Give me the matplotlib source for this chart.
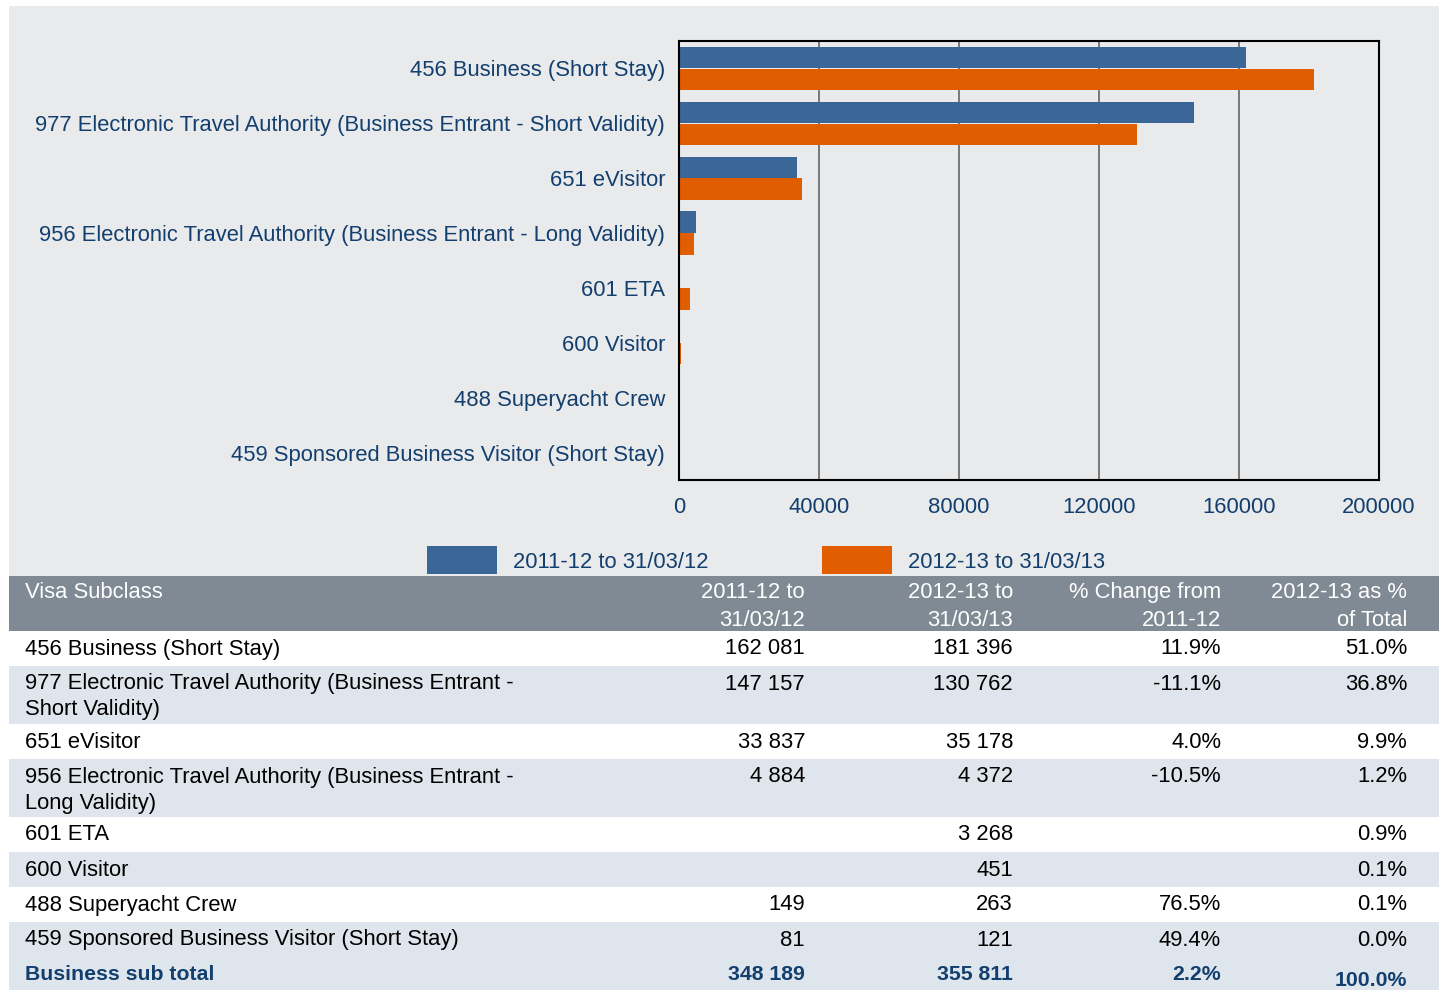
import numpy as np
import matplotlib
matplotlib.use("Agg")
import matplotlib.pyplot as plt
from matplotlib.patches import Rectangle

plt.rcParams['font.family'] = ['Liberation Sans', 'DejaVu Sans']

# data
categories = ["456 Business (Short Stay)",
              "977 Electronic Travel Authority (Business Entrant - Short Validity)",
              "651 eVisitor",
              "956 Electronic Travel Authority (Business Entrant - Long Validity)",
              "601 ETA",
              "600 Visitor",
              "488 Superyacht Crew",
              "459 Sponsored Business Visitor (Short Stay)"]
table_names = ["456 Business (Short Stay)",
               "977 Electronic Travel Authority (Business Entrant -\nShort Validity)",
               "651 eVisitor",
               "956 Electronic Travel Authority (Business Entrant -\nLong Validity)",
               "601 ETA",
               "600 Visitor",
               "488 Superyacht Crew",
               "459 Sponsored Business Visitor (Short Stay)"]
series_names = ["2011-12 to 31/03/12", "2012-13 to 31/03/13"]
v2011 = [162081, 147157, 33837, 4884, None, None, 149, 81]
v2013 = [181396, 130762, 35178, 4372, 3268, 451, 263, 121]
pct_change = [11.9, -11.1, 4.0, -10.5, None, None, 76.5, 49.4]
pct_total = [51.0, 36.8, 9.9, 1.2, 0.9, 0.1, 0.1, 0.0]
subtotal = ["Business sub total", 348189, 355811, 2.2, 100.0]
headers = ["Visa Subclass", "2011-12 to\n31/03/12", "2012-13 to\n31/03/13",
           "% Change from\n2011-12", "2012-13 as %\nof Total"]
xticks = [0, 40000, 80000, 120000, 160000, 200000]

BG = "#e9eaec"
HEAD = "#808a94"
ROWALT = "#dfe5ec"
DARK = "#123f6e"
BLUE = "#3b6698"
ORANGE = "#e05e00"
FS = 15.8

W, H = 1447, 990
fig = plt.figure(figsize=(W / 100, H / 100), dpi=100, facecolor="white")

# overlay in pixel coords for panel, legend and table
bg = fig.add_axes([0, 0, 1, 1], zorder=0)
bg.set_xlim(0, W)
bg.set_ylim(H, 0)
bg.axis("off")
bg.add_patch(Rectangle((9, 6), 1430, 570, color=BG, lw=0))

# chart
ax = fig.add_axes([679 / W, 1 - 480 / H, 700 / W, 439 / H], zorder=1)
ax.set_facecolor(BG)
y = np.arange(len(categories))
b1 = np.array([np.nan if v is None else v for v in v2011], dtype=float)
b2 = np.array(v2013, dtype=float)
ax.barh(y - 0.2, b1, height=0.39, color=BLUE)
ax.barh(y + 0.2, b2, height=0.39, color=ORANGE)
ax.set_xlim(0, 200000)
ax.set_ylim(len(categories) - 0.5, -0.5)
ax.set_xticks(xticks)
ax.set_xticklabels([str(t) for t in xticks])
ax.set_yticks(y)
ax.set_yticklabels(categories)
ax.tick_params(axis="both", length=0, labelsize=FS, labelcolor=DARK)
ax.tick_params(axis="x", pad=12)
ax.tick_params(axis="y", pad=10)
ax.xaxis.grid(True, color="#707070", lw=1.3)
ax.set_axisbelow(True)
for s in ax.spines.values():
    s.set_color("black")
    s.set_linewidth(1.5)

# legend
for i, (name, col) in enumerate(zip(series_names, [BLUE, ORANGE])):
    x0 = 427 + i * 395
    bg.add_patch(Rectangle((x0, 546), 70, 28, color=col, lw=0))
    bg.text(x0 + 86, 562, name, fontsize=FS, color=DARK, va="center", ha="left")

# table
col_x = [25, 805, 1013, 1221, 1407]
bg.add_patch(Rectangle((9, 576), 1430, 55, color=HEAD, lw=0))
for j, h in enumerate(headers):
    lines = h.split("\n")
    for k, ln in enumerate(lines):
        bg.text(col_x[j], 592.5 + k * 28, ln, fontsize=FS, color="white", va="center",
                ha="left" if j == 0 else "right")


def fmt_num(v):
    return "" if v is None else f"{v:,}".replace(",", " ")


def fmt_pct(v):
    return "" if v is None else f"{v:.1f}%"


top = 631
for i in range(len(table_names)):
    nlines = table_names[i].count("\n") + 1
    rh = 35 if nlines == 1 else 58
    if i % 2 == 1:
        bg.add_patch(Rectangle((9, top), 1430, rh, color=ROWALT, lw=0))
    for k, ln in enumerate(table_names[i].split("\n")):
        bg.text(col_x[0], top + 18 + k * 26, ln, fontsize=FS, color="black", va="center")
    vals = [fmt_num(v2011[i]), fmt_num(v2013[i]), fmt_pct(pct_change[i]), fmt_pct(pct_total[i])]
    for j, v in enumerate(vals):
        bg.text(col_x[j + 1], top + 18, v, fontsize=FS, color="black", va="center", ha="right")
    top += rh

# subtotal row
bg.add_patch(Rectangle((9, top), 1430, H - top, color=ROWALT, lw=0))
bg.text(col_x[0], top + 17, subtotal[0], fontsize=FS - 0.5, color=DARK, va="center",
        fontweight="bold")
sub_vals = [fmt_num(subtotal[1]), fmt_num(subtotal[2]), fmt_pct(subtotal[3]), fmt_pct(subtotal[4])]
for j, v in enumerate(sub_vals):
    dy = 24 if j == 3 else 17
    bg.text(col_x[j + 1], top + dy, v, fontsize=FS - 0.5, color=DARK, va="center", ha="right",
            fontweight="bold")

fig.savefig("out.png", dpi=100, facecolor="white")
